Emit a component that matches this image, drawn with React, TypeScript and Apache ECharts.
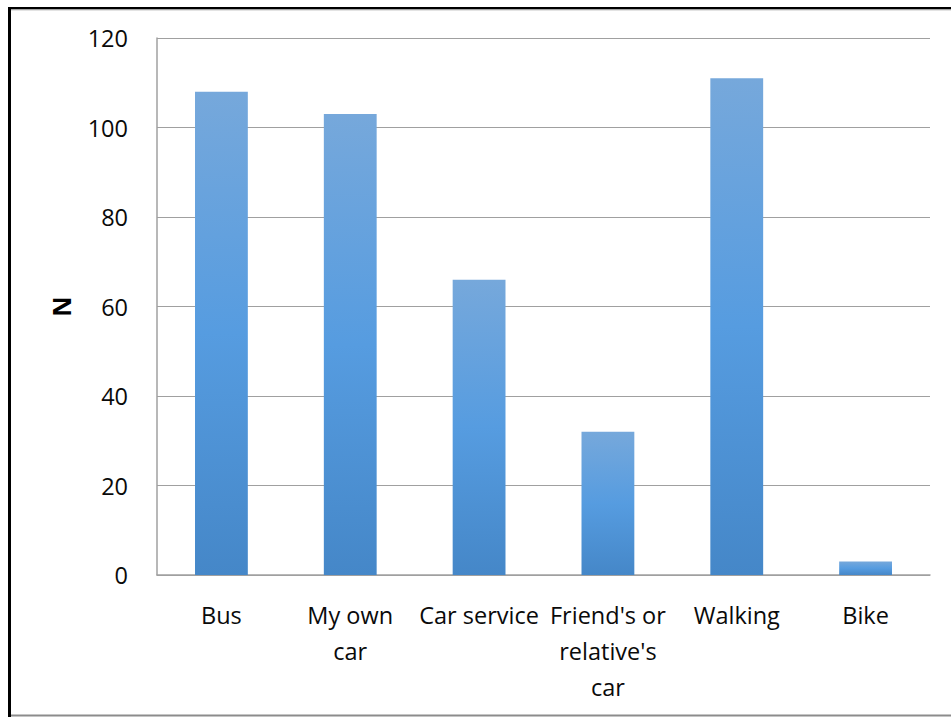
import React, { useEffect, useRef } from "react";
import * as echarts from "echarts";

const categories = ["Bus", "My own car", "Car service", "Friend's or relative's car", "Walking", "Bike"];
const categoryLabels = ["Bus", "My own\ncar", "Car service", "Friend's or\nrelative's\ncar", "Walking", "Bike"];
const values = [108, 103, 66, 32, 111, 3];
const yTicks = { min: 0, max: 120, interval: 20 };
const yName = "N";

const FONT = "'Open Sans', 'Noto Sans', sans-serif";

export default function App() {
  const ref = useRef<HTMLDivElement>(null);
  useEffect(() => {
    if (!ref.current) return;
    const chart = echarts.init(ref.current, undefined, { renderer: "svg" });
    chart.setOption({
      animation: false,
      backgroundColor: "#ffffff",
      textStyle: { fontFamily: FONT },
      grid: { left: 157, top: 38, right: 21, bottom: 142, containLabel: false },
      graphic: [
        { type: "rect", shape: { x: 8, y: 7, width: 3, height: 710 }, style: { fill: "#000000" }, silent: true },
        { type: "rect", shape: { x: 8, y: 7, width: 943, height: 2.5 }, style: { fill: "#000000" }, silent: true },
        { type: "line", shape: { x1: 11, y1: 10, x2: 951, y2: 10 }, style: { stroke: "#c8c8c8", lineWidth: 1 }, silent: true },
        { type: "line", shape: { x1: 11, y1: 715.5, x2: 951, y2: 715.5 }, style: { stroke: "#8c8c8c", lineWidth: 2 }, silent: true },
      ],
      xAxis: {
        type: "category",
        data: categories,
        axisLine: { show: true, lineStyle: { color: "#a0a0a0", width: 1.5 } },
        axisTick: { show: false },
        axisLabel: {
          interval: 0,
          color: "#0a0a0a",
          fontSize: 23.5,
          lineHeight: 36,
          margin: 22,
          fontFamily: FONT,
          formatter: (_v: string, i: number) => categoryLabels[i],
        },
      },
      yAxis: {
        type: "value",
        min: yTicks.min,
        max: yTicks.max,
        interval: yTicks.interval,
        name: yName,
        nameLocation: "middle",
        nameRotate: 90,
        nameGap: 84,
        nameTextStyle: { fontSize: 25, fontWeight: "bold", color: "#000000", fontFamily: FONT },
        axisLine: { show: true, lineStyle: { color: "#a0a0a0", width: 1.5 } },
        axisTick: { show: false },
        axisLabel: { color: "#0a0a0a", fontSize: 23.5, margin: 29, fontFamily: FONT },
        splitLine: { show: true, lineStyle: { color: "#a0a0a0", width: 1 } },
      },
      series: [
        {
          type: "bar",
          data: values,
          barCategoryGap: "59%",
          itemStyle: {
            color: new echarts.graphic.LinearGradient(0, 0, 0, 1, [
              { offset: 0, color: "#76a8db" },
              { offset: 0.5, color: "#569ce0" },
              { offset: 1, color: "#4587c8" },
            ]),
          },
        },
      ],
    });
    return () => chart.dispose();
  }, []);
  return (
    <div style={{ position: "absolute", left: 0, top: 0, width: 951, height: 717 }}>
      <div ref={ref} style={{ width: 951, height: 717 }} />
    </div>
  );
}
